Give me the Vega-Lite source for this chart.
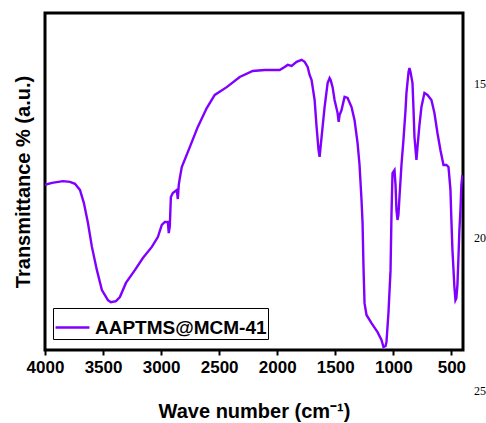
{
  "$schema": "https://vega.github.io/schema/vega-lite/v6.json",
  "autosize": "none",
  "width": 418,
  "height": 337,
  "padding": {"left": 45, "top": 13, "right": 23, "bottom": 73},
  "background": "white",
  "config": {
    "view": {"stroke": "black", "strokeWidth": 3},
    "font": "Liberation Sans"
  },
  "layer": [
    {
      "data": {"values": [
        {"w":4000,"t":49.0},{"w":3940,"t":49.6},{"w":3845,"t":50.1},{"w":3785,"t":49.9},{"w":3742,"t":49.3},
        {"w":3699,"t":47.5},{"w":3665,"t":43.6},{"w":3630,"t":37.7},{"w":3596,"t":30.6},{"w":3553,"t":23.7},
        {"w":3510,"t":17.8},{"w":3458,"t":14.8},{"w":3432,"t":14.2},{"w":3389,"t":14.5},{"w":3355,"t":15.7},
        {"w":3303,"t":19.9},{"w":3226,"t":23.7},{"w":3157,"t":27.3},{"w":3080,"t":30.6},{"w":3028,"t":33.5},
        {"w":2994,"t":37.1},{"w":2968,"t":38.0},{"w":2942,"t":38.0},{"w":2934,"t":34.7},{"w":2925,"t":36.8},
        {"w":2916,"t":45.4},{"w":2899,"t":46.6},{"w":2865,"t":47.5},{"w":2856,"t":44.8},{"w":2848,"t":49.0},
        {"w":2839,"t":51.0},{"w":2822,"t":54.3},{"w":2753,"t":60.2},{"w":2684,"t":66.2},{"w":2607,"t":71.8},
        {"w":2538,"t":75.7},{"w":2435,"t":78.0},{"w":2323,"t":81.0},{"w":2211,"t":82.8},{"w":2108,"t":83.1},
        {"w":1979,"t":83.1},{"w":1936,"t":84.0},{"w":1910,"t":84.6},{"w":1876,"t":84.3},{"w":1833,"t":85.5},
        {"w":1790,"t":86.1},{"w":1764,"t":85.5},{"w":1738,"t":84.0},{"w":1721,"t":81.6},{"w":1704,"t":80.1},
        {"w":1678,"t":74.2},{"w":1661,"t":66.2},{"w":1644,"t":59.3},{"w":1635,"t":57.3},{"w":1618,"t":63.2},
        {"w":1592,"t":72.1},{"w":1566,"t":79.2},{"w":1549,"t":80.7},{"w":1540,"t":80.1},{"w":1523,"t":78.0},
        {"w":1506,"t":74.2},{"w":1480,"t":70.3},{"w":1471,"t":67.7},{"w":1463,"t":69.7},{"w":1446,"t":71.2},
        {"w":1420,"t":75.1},{"w":1394,"t":74.8},{"w":1360,"t":72.1},{"w":1334,"t":68.2},{"w":1308,"t":61.4},
        {"w":1291,"t":54.9},{"w":1274,"t":44.5},{"w":1265,"t":37.7},{"w":1257,"t":24.6},{"w":1248,"t":13.9},
        {"w":1231,"t":10.4},{"w":1188,"t":8.0},{"w":1136,"t":5.3},{"w":1102,"t":3.0},{"w":1085,"t":0.9},
        {"w":1067,"t":1.2},{"w":1059,"t":2.4},{"w":1042,"t":11.0},{"w":1024,"t":23.7},{"w":1016,"t":40.1},
        {"w":1007,"t":52.5},{"w":990,"t":53.4},{"w":981,"t":49.0},{"w":973,"t":41.5},{"w":964,"t":38.6},
        {"w":956,"t":40.1},{"w":947,"t":45.4},{"w":930,"t":54.9},{"w":913,"t":62.3},{"w":895,"t":71.2},
        {"w":887,"t":76.3},{"w":869,"t":82.5},{"w":861,"t":83.7},{"w":852,"t":82.5},{"w":835,"t":79.2},
        {"w":826,"t":71.2},{"w":818,"t":63.2},{"w":801,"t":56.4},{"w":792,"t":60.2},{"w":775,"t":66.8},
        {"w":758,"t":72.1},{"w":732,"t":76.3},{"w":706,"t":75.7},{"w":672,"t":74.2},{"w":646,"t":70.3},
        {"w":620,"t":64.4},{"w":594,"t":59.3},{"w":577,"t":56.4},{"w":568,"t":54.9},{"w":543,"t":54.9},
        {"w":525,"t":54.3},{"w":508,"t":47.5},{"w":500,"t":38.6},{"w":491,"t":29.7},{"w":474,"t":18.7},
        {"w":465,"t":14.8},{"w":457,"t":15.4},{"w":448,"t":19.3},{"w":440,"t":26.7},{"w":431,"t":35.6},
        {"w":422,"t":41.5},{"w":414,"t":49.0},{"w":405,"t":51.9}
      ]},
      "transform": [{"calculate": "'AAPTMS@MCM-41'", "as": "s"}],
      "mark": {"type": "line", "strokeWidth": 2.4, "clip": true},
      "encoding": {
        "x": {
          "field": "w", "type": "quantitative",
          "scale": {"domain": [400, 4000], "reverse": true, "nice": false, "zero": false},
          "axis": {
            "values": [500,750,1000,1250,1500,1750,2000,2250,2500,2750,3000,3250,3500,3750,4000],
            "labelExpr": "datum.value % 500 === 0 ? datum.label : ''",
            "labelOverlap": false,
            "labelFlush": false,
            "format": "d",
            "grid": false, "domain": false,
            "tickColor": "black", "tickWidth": 2, "tickSize": 5,
            "labelFont": "Liberation Sans", "labelFontWeight": "bold", "labelFontSize": 17, "labelColor": "black",
            "labelPadding": 4,
            "title": "Wave number (cm⁻¹)",
            "titleFont": "Liberation Sans", "titleFontWeight": "bold", "titleFontSize": 20, "titleColor": "black",
            "titlePadding": 26
          }
        },
        "y": {
          "field": "t", "type": "quantitative",
          "scale": {"domain": [0, 100], "nice": false},
          "axis": {
            "ticks": false, "labels": false, "domain": false, "grid": false,
            "title": "Transmittance % (a.u.)",
            "titleFont": "Liberation Sans", "titleFontWeight": "bold", "titleFontSize": 20, "titleColor": "black",
            "titlePadding": 12
          }
        },
        "color": {
          "field": "s", "type": "nominal",
          "scale": {"range": ["#8000ff"]},
          "legend": {
            "title": null, "orient": "none", "legendX": 8, "legendY": 295,
            "symbolType": "stroke", "symbolSize": 1150, "symbolStrokeWidth": 2.4,
            "labelFont": "Liberation Sans", "labelFontWeight": "bold", "labelFontSize": 19, "labelColor": "black",
            "labelOffset": 4, "labelLimit": 400,
            "strokeColor": "black", "fillColor": "white", "padding": 1, "cornerRadius": 0
          }
        }
      }
    },
    {
      "data": {"values": [{"v": 15, "lab": "15"}, {"v": 20, "lab": "20"}, {"v": 25, "lab": "25"}]},
      "mark": {"type": "text", "align": "left", "baseline": "middle", "font": "Liberation Serif", "fontSize": 12, "color": "black"},
      "encoding": {
        "x": {"datum": 305, "type": "quantitative"},
        "y": {"field": "v", "type": "quantitative", "scale": {"domain": [12.687, 23.664], "reverse": true, "nice": false, "zero": false}, "axis": null},
        "text": {"field": "lab"}
      }
    }
  ],
  "resolve": {"scale": {"y": "independent"}}
}
